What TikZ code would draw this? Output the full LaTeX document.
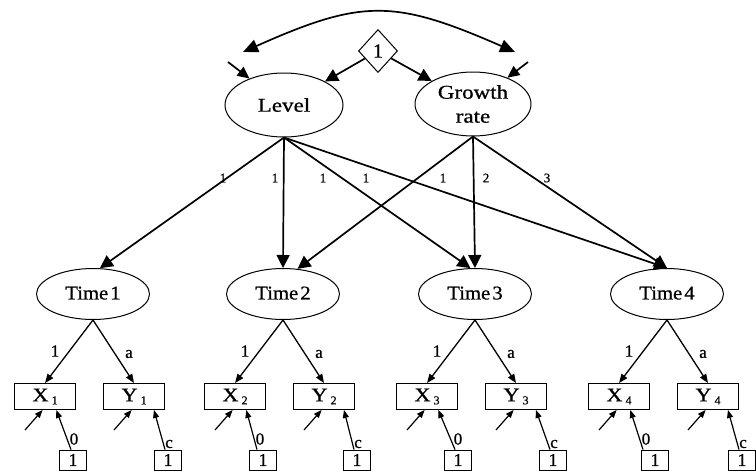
\documentclass[tikz,border=0pt]{standalone}
\usepackage{fontspec}
\usepackage{graphicx}
\setmainfont[FakeBold=0.7]{Liberation Serif}
\usetikzlibrary{shapes.geometric,arrows.meta,calc}
\newcommand\widetxt[1]{\scalebox{1.18}[1]{#1}}
\newcommand\timetxt[1]{\raisebox{2pt}{\scalebox{1.06}[1]{Time\hspace{2pt}#1}}}
\newcommand\obsname[2]{\scalebox{1.15}[1]{#1}\hspace{3pt}\raisebox{-3pt}{\fontsize{12}{12}\selectfont #2}}
\begin{document}
\begin{tikzpicture}[x=1pt,y=-1pt,
  lat/.style={draw,ellipse,line width=1pt,minimum width=118pt,minimum height=64pt,inner sep=0pt,font=\fontsize{19.5}{25}\selectfont,align=center},
  tim/.style={draw,ellipse,line width=1pt,minimum width=113pt,minimum height=51pt,inner sep=0pt,font=\fontsize{19.5}{25}\selectfont},
  obs/.style={draw,rectangle,line width=0.9pt,minimum width=61pt,minimum height=26pt,inner sep=0pt,font=\fontsize{19.5}{20}\selectfont},
  one/.style={draw,rectangle,line width=0.9pt,minimum width=27pt,minimum height=20pt,inner sep=0pt,font=\fontsize{18}{18}\selectfont},
  dia/.style={draw,diamond,line width=1pt,minimum width=39pt,minimum height=43pt,inner sep=0pt,font=\fontsize{20}{20}\selectfont},
  big/.style={-{Triangle[length=13pt,width=13pt]},line width=1.7pt},
  curv/.style={{Triangle[length=15pt,width=13pt]}-{Triangle[length=15pt,width=13pt]},line width=1.7pt},
  sml/.style={-{Triangle[length=9pt,width=7pt]},line width=1.3pt},
  err/.style={-{Triangle[length=8pt,width=6pt]},line width=1.2pt},
  lab/.style={inner sep=0pt,font=\fontsize{13}{13}\selectfont},
  labb/.style={inner sep=0pt,font=\fontsize{17}{17}\selectfont},
]
\fill[white] (0,0) rectangle (756,471);
\useasboundingbox (0,0) rectangle (756,471);

% top latent variables
\node[lat] (L) at (284,105) {\widetxt{Level}};
\node[lat,minimum width=116pt] (G) at (473,104) {\widetxt{Growth}\\[-1pt]\widetxt{rate}};
\node[dia] (D) at (378,51) {1};

% covariance curve
\coordinate (cl) at (243,52);
\coordinate (cr) at (515,52);
\draw[curv] (cl) .. controls (362,-1) and (394,-1) .. (cr);

% disturbances into Level and Growth
\coordinate (eL) at (228,62);
\coordinate (eG) at (528,62);
\draw[-{Triangle[length=12pt,width=11pt]},line width=1.7pt] (eL) -- (L);
\draw[-{Triangle[length=12pt,width=11pt]},line width=1.7pt] (eG) -- (G);

% constant to means
\draw[big] (D) -- (L);
\draw[big] (D) -- (G);

% time latent variables and indicators
\foreach \i/\t/\sx/\sy/\ox in {1/93/73/168/-2, 2/283/263/357/-6, 3/475/458/553/-3, 4/667/655/742/-12}{
  \node[tim] (T\i) at (\t,294) {\timetxt{\i}};
  \node[obs] (X\i) at (\t-48,396.5) {\obsname{X}{\i}};
  \node[obs] (Y\i) at (\t+41,396.5) {\obsname{Y}{\i}};
  \draw[sml] (T\i.south) -- (X\i.north);
  \draw[sml] (T\i.south) -- (Y\i.north);
  \node[labb] (la\i) at (\t-38,351) {1};
  \node[labb] (lb\i) at (\t+36,354) {a};
  \coordinate (ex\i) at (\t-68,430);
  \coordinate (ey\i) at (\t+21,430);
  \draw[err] (ex\i) -- (X\i.-100);
  \draw[err] (ey\i) -- (Y\i.-100);
  \node[one] (sx\i) at (\sx,460) {1};
  \node[one] (sy\i) at (\sy,460) {1};
  \draw[err] ($(sx\i.north)+(\ox,0)$) -- (X\i.-50);
  \draw[err] ($(sy\i.north)+(-3,0)$) -- (Y\i.-34);
  \node[labb] (lz\i) at (\sx+\ox+3,439) {0};
  \node[labb] (lc\i) at (\sy+1,444) {c};
}

% loadings from Level and Growth
\draw[big] (L.south) -- (T1.75);
\draw[big] (L.south) -- (T2.north);
\draw[big] (L.south) -- (T3.100);
\draw[big] (L.south) -- (T4.north);
\draw[big] (G.south) -- (T2.60);
\draw[big] (G.south) -- (T3.north);
\draw[big] (G.south) -- (T4.north);

\node[lab] (k1) at (223,178) {1};
\node[lab] (k2) at (275,178) {1};
\node[lab] (k3) at (323,178) {1};
\node[lab] (k4) at (366,178) {1};
\node[lab] (k5) at (443,178) {1};
\node[lab] (k6) at (486,178) {2};
\node[lab] (k7) at (547,178) {3};
\end{tikzpicture}
\end{document}
